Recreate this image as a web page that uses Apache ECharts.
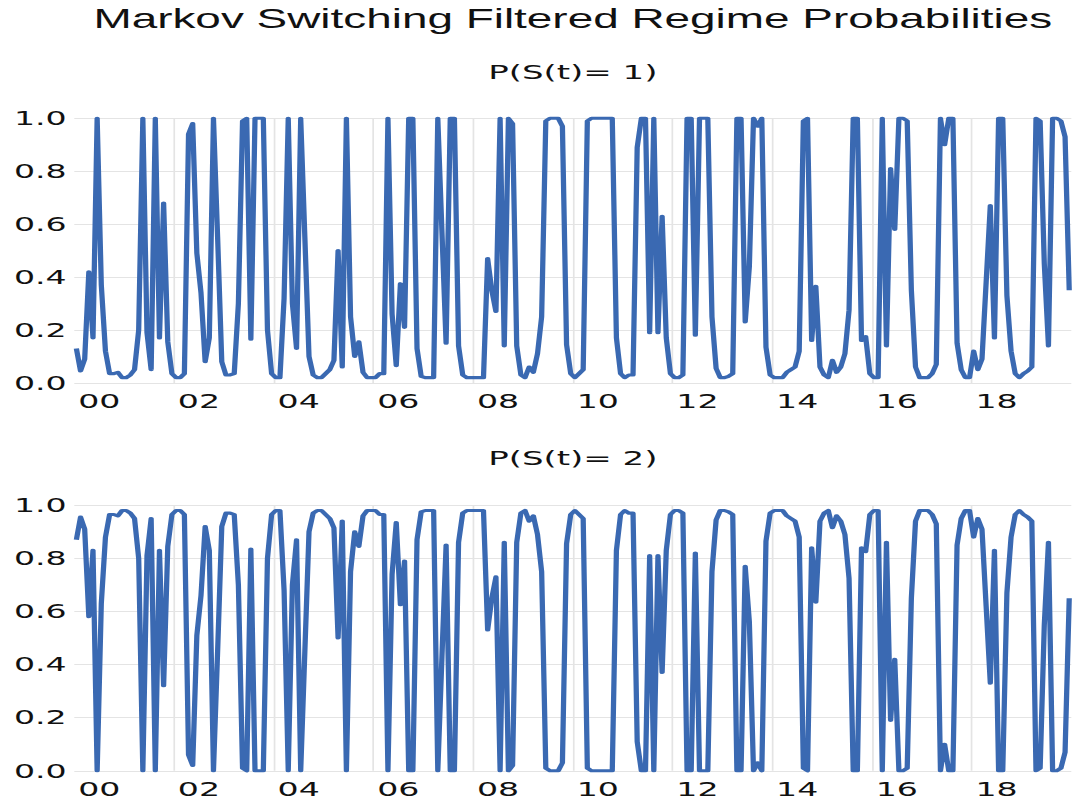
<!DOCTYPE html>
<html>
<head>
<meta charset="utf-8">
<script src="https://cdn.jsdelivr.net/npm/echarts@6/dist/echarts.min.js"></script>
<style>
html,body{margin:0;padding:0;background:#fff;overflow:hidden;width:1072px;height:803px;}
#c{position:absolute;left:0;top:0;height:803px;transform-origin:0 0;}
</style>
</head>
<body>
<div id="c"></div>
<script>
// ---- data (monthly, 2000M01 .. 2019M12) ----
const startYear = 2000;
const titleText = 'Markov Switching Filtered Regime Probabilities';
const panelTitles = ['P(S(t)= 1)', 'P(S(t)= 2)'];
const tickLabels = ['00','02','04','06','08','10','12','14','16','18'];
const yTicks = [0, 0.2, 0.4, 0.6, 0.8, 1.0];

const p1 = [
0.13,0.045,0.09,0.42,0.17,1.0,0.37,0.12,0.035,0.035,
0.04,0.02,0.02,0.03,0.05,0.2,1.0,0.19,0.05,1.0,
0.17,0.68,0.155,0.035,0.02,0.02,0.035,0.94,0.98,0.49,
0.34,0.08,0.17,1.0,0.55,0.08,0.03,0.03,0.035,0.3,
0.99,1.0,0.165,1.0,1.0,1.0,0.2,0.035,0.02,0.02,
0.32,1.0,0.3,0.13,1.0,0.55,0.1,0.03,0.02,0.02,
0.035,0.05,0.085,0.5,0.06,1.0,0.25,0.1,0.155,0.04,
0.02,0.02,0.02,0.035,0.035,1.0,0.26,0.065,0.375,0.21,
1.0,1.0,0.13,0.025,0.02,0.02,0.02,1.0,0.57,0.15,
1.0,1.0,0.14,0.03,0.02,0.02,0.02,0.02,0.02,0.47,
0.35,0.27,1.0,0.14,1.0,0.98,0.14,0.03,0.02,0.06,
0.04,0.11,0.25,0.99,1.0,1.0,1.0,0.97,0.145,0.035,
0.02,0.035,0.05,0.99,1.0,1.0,1.0,1.0,1.0,1.0,
0.17,0.035,0.02,0.03,0.03,0.89,1.0,1.0,0.19,1.0,
0.19,0.63,0.17,0.035,0.02,0.02,0.03,1.0,1.0,0.18,
1.0,1.0,1.0,0.25,0.055,0.02,0.02,0.025,0.035,1.0,
1.0,0.23,0.44,1.0,0.97,1.0,0.135,0.03,0.02,0.02,
0.02,0.04,0.05,0.06,0.12,0.99,1.0,0.16,0.365,0.06,
0.03,0.02,0.085,0.04,0.06,0.11,0.275,1.0,1.0,0.16,
0.175,0.035,0.02,0.02,1.0,0.14,0.81,0.58,1.0,1.0,
0.99,0.35,0.06,0.02,0.02,0.02,0.035,0.07,1.0,0.9,
1.0,1.0,0.15,0.05,0.02,0.02,0.12,0.05,0.09,0.38,
0.67,0.17,1.0,1.0,0.33,0.12,0.035,0.02,0.035,0.045,
0.06,1.0,0.99,0.45,0.14,1.0,1.0,0.99,0.93,0.35
];

const p2 = [
0.87,0.955,0.91,0.58,0.83,0.0,0.63,0.88,0.965,0.965,
0.96,0.98,0.98,0.97,0.95,0.8,0.0,0.81,0.95,0.0,
0.83,0.32,0.845,0.965,0.98,0.98,0.965,0.06,0.02,0.51,
0.66,0.92,0.83,0.0,0.45,0.92,0.97,0.97,0.965,0.7,
0.01,0.0,0.835,0.0,0.0,0.0,0.8,0.965,0.98,0.98,
0.68,0.0,0.7,0.87,0.0,0.45,0.9,0.97,0.98,0.98,
0.965,0.95,0.915,0.5,0.94,0.0,0.75,0.9,0.845,0.96,
0.98,0.98,0.98,0.965,0.965,0.0,0.74,0.935,0.625,0.79,
0.0,0.0,0.87,0.975,0.98,0.98,0.98,0.0,0.43,0.85,
0.0,0.0,0.86,0.97,0.98,0.98,0.98,0.98,0.98,0.53,
0.65,0.73,0.0,0.86,0.0,0.02,0.86,0.97,0.98,0.94,
0.96,0.89,0.75,0.01,0.0,0.0,0.0,0.03,0.855,0.965,
0.98,0.965,0.95,0.01,0.0,0.0,0.0,0.0,0.0,0.0,
0.83,0.965,0.98,0.97,0.97,0.11,0.0,0.0,0.81,0.0,
0.81,0.37,0.83,0.965,0.98,0.98,0.97,0.0,0.0,0.82,
0.0,0.0,0.0,0.75,0.945,0.98,0.98,0.975,0.965,0.0,
0.0,0.77,0.56,0.0,0.03,0.0,0.865,0.97,0.98,0.98,
0.98,0.96,0.95,0.94,0.88,0.01,0.0,0.84,0.635,0.94,
0.97,0.98,0.915,0.96,0.94,0.89,0.725,0.0,0.0,0.84,
0.825,0.965,0.98,0.98,0.0,0.86,0.19,0.42,0.0,0.0,
0.01,0.65,0.94,0.98,0.98,0.98,0.965,0.93,0.0,0.1,
0.0,0.0,0.85,0.95,0.98,0.98,0.88,0.95,0.91,0.62,
0.33,0.83,0.0,0.0,0.67,0.88,0.965,0.98,0.965,0.955,
0.94,0.0,0.01,0.55,0.86,0.0,0.0,0.01,0.07,0.65
];

// ---- layout (screen pixels, the page is stretched horizontally by S) ----
const S = 1.7;
const W = 1072 / S;
const el = document.getElementById('c');
el.style.width = W + 'px';
el.style.transform = 'scaleX(' + S + ')';

const plotL = 74.3 / S, plotR = 1071.3 / S;
const grids = [{top: 118.3, height: 264.6}, {top: 505.2, height: 265.6}];
const lineColor = '#3a69b2';
const gridColor = '#e4e4e4';
const fontFam = '"DejaVu Sans", Verdana, sans-serif';

const nMonths = p1.length;
const toPts = arr => arr.map((v, i) => [i + 0.5, v]);
const labelPos = tickLabels.map((t, i) => i * 24 + 6);

const chart = echarts.init(el, null, {renderer: 'svg', width: W, height: 803});

const xAxes = [], yAxes = [], series = [], gridOpts = [];
grids.forEach((g, gi) => {
  gridOpts.push({left: plotL, width: plotR - plotL, top: g.top, height: g.height, containLabel: false});
  xAxes.push({
    type: 'value', gridIndex: gi, min: 0, max: nMonths, interval: 24,
    axisLine: {show: false}, axisTick: {show: false},
    splitLine: {show: true, showMinLine: false, showMaxLine: false, lineStyle: {color: gridColor, width: 1}},
    axisLabel: {
      show: true, customValues: labelPos, margin: 8,
      color: '#111', fontFamily: fontFam, fontSize: 19.5,
      formatter: v => tickLabels[Math.round((v - 6) / 24)]
    }
  });
  yAxes.push({
    type: 'value', gridIndex: gi, min: yTicks[0], max: yTicks[yTicks.length - 1], interval: 0.2,
    axisLine: {show: false}, axisTick: {show: false},
    splitLine: {show: true, lineStyle: {color: gridColor, width: 1}},
    axisLabel: {margin: 4.5, color: '#111', fontFamily: fontFam, fontSize: 19.5,
      formatter: v => v.toFixed(1)}
  });
  series.push({
    type: 'line', xAxisIndex: gi, yAxisIndex: gi,
    data: toPts(gi === 0 ? p1 : p2),
    showSymbol: false, symbol: 'none', smooth: false,
    lineStyle: {color: lineColor, width: 3.1, join: 'round'},
    animation: false, clip: false
  });
});

const cx = (74.3 + 1071.3) / 2 / S;
chart.setOption({
  animation: false,
  backgroundColor: '#ffffff',
  grid: gridOpts,
  xAxis: xAxes,
  yAxis: yAxes,
  series: series,
  graphic: [
    {type: 'text', x: cx, y: 19, style: {text: titleText, fill: '#111', font: '27px "Liberation Sans", Arial, sans-serif', textAlign: 'center', textVerticalAlign: 'middle'}},
    {type: 'text', x: cx, y: 72, style: {text: panelTitles[0], fill: '#111', font: '20px ' + fontFam, textAlign: 'center', textVerticalAlign: 'middle'}},
    {type: 'text', x: cx, y: 458, style: {text: panelTitles[1], fill: '#111', font: '20px ' + fontFam, textAlign: 'center', textVerticalAlign: 'middle'}}
  ]
});
</script>
</body>
</html>
